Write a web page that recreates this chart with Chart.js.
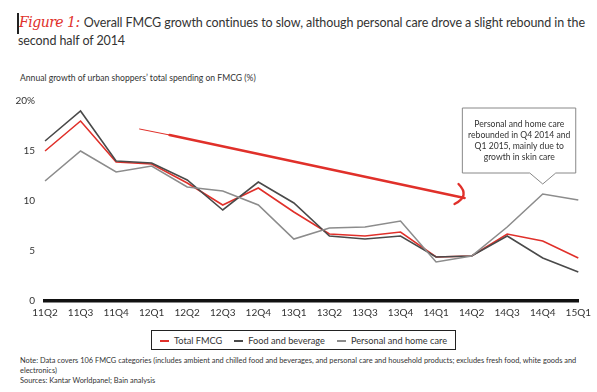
<!DOCTYPE html>
<html lang="en">
<head>
<meta charset="UTF-8">
<title>FMCG growth</title>
<style>
  body { margin: 0; width: 597px; height: 392px; background: #fff; font-family: Lato, "Open Sans", sans-serif; color: #333; position: relative; overflow: hidden; }
  #title { position: absolute; left: 18px; top: 13px; width: 580px; font-size: 12.5px; line-height: 18px; color: #333; white-space: nowrap; letter-spacing: -0.1px; }
  #title .bar { position: absolute; left: -1px; top: 0; width: 1.5px; height: 21px; background: #222; }
  #title .fig { color: #e0302a; font-style: italic; font-size: 14px; font-family: "DejaVu Serif", serif; margin-left: 1px; margin-right: 4px; letter-spacing: -0.5px; }
  #ytitle { position: absolute; left: 20px; top: 73px; font-size: 8.6px; color: #333; }
  #wrap { position: absolute; left: 0; top: 85px; width: 597px; height: 240px; }
  #legend { position: absolute; left: 151px; top: 330px; width: 303px; height: 18px; border: 1px solid #222; font-size: 9.2px; display: flex; align-items: center; justify-content: center; gap: 12px; white-space: nowrap; }
  #legend span.sw { display: inline-block; width: 9px; height: 2.5px; vertical-align: middle; margin-right: 5px; }
  #notes { position: absolute; left: 20px; top: 356px; width: 570px; font-size: 7.4px; line-height: 10px; color: #333; }
</style>
</head>
<body>
<div id="title"><div class="bar"></div><span class="fig">Figure 1:</span>Overall FMCG growth continues to slow, although personal care drove a slight rebound in the<br>second half of 2014</div>
<div id="ytitle">Annual growth of urban shoppers’ total spending on FMCG (%)</div>
<div id="wrap"><canvas id="chart" width="597" height="240"></canvas></div>
<div id="legend"></div>
<div id="notes">Note: Data covers 106 FMCG categories (includes ambient and chilled food and beverages, and personal care and household products; excludes fresh food, white goods and electronics)<br>Sources: Kantar Worldpanel; Bain analysis</div>

<script src="https://cdn.jsdelivr.net/npm/chart.js"></script>
<script>
const quarters = ['11Q2','11Q3','11Q4','12Q1','12Q2','12Q3','12Q4','13Q1','13Q2','13Q3','13Q4','14Q1','14Q2','14Q3','14Q4','15Q1'];
const totalFmcg = [15.0, 18.0, 13.9, 13.7, 11.8, 9.6, 11.3, 8.9, 6.7, 6.5, 6.9, 4.4, 4.5, 6.7, 6.0, 4.3];
const foodBeverage = [16.0, 19.0, 14.0, 13.8, 12.1, 9.1, 11.9, 9.8, 6.5, 6.2, 6.5, 4.4, 4.5, 6.5, 4.3, 2.9];
const personalHome = [12.0, 15.0, 12.9, 13.5, 11.4, 11.0, 9.6, 6.2, 7.3, 7.4, 8.0, 3.9, 4.5, 7.4, 10.7, 10.1];
const yTicks = [0, 5, 10, 15, 20];
const seriesNames = ['Total FMCG', 'Food and beverage', 'Personal and home care'];
const seriesColors = ['#e0302a', '#4a4a4a', '#8c8c8c'];
const calloutLines = ['Personal and home care', 'rebounded in Q4 2014 and', 'Q1 2015, mainly due to', 'growth in skin care'];

const legend = document.getElementById('legend');
seriesNames.forEach((n, i) => {
  const d = document.createElement('div');
  d.innerHTML = '<span class="sw" style="background:' + seriesColors[i] + '"></span>' + n;
  legend.appendChild(d);
});

// red trend arrow + callout box
const annotations = {
  id: 'annotations',
  afterDatasetsDraw(chart) {
    const ctx = chart.ctx, x = chart.scales.x, y = chart.scales.y;
    // arrow
    const x1 = x.getPixelForValue(2.66), y1 = y.getPixelForValue(17.2);
    const x2 = x.getPixelForValue(11.8), y2 = y.getPixelForValue(10.3);
    ctx.save();
    ctx.strokeStyle = '#e0302a';
    ctx.lineCap = 'round';
    ctx.lineWidth = 1;
    ctx.beginPath(); ctx.moveTo(x1, y1); ctx.lineTo(x1 + 40, y1 + 8); ctx.stroke();
    ctx.lineWidth = 2.6;
    ctx.beginPath(); ctx.moveTo(x1 + 30, y1 + 6); ctx.lineTo(x2, y2); ctx.stroke();
    ctx.lineWidth = 2.4;
    ctx.beginPath();
    ctx.moveTo(x2 - 6, y2 - 14);
    ctx.quadraticCurveTo(x2 + 6, y2 - 2, x2 - 10, y2 + 6);
    ctx.stroke();
    // callout
    const tx = x.getPixelForValue(14), ty = y.getPixelForValue(11.7);
    const bx = tx - 80, by = ty - 76, bw = 113, bh = 65;
    ctx.lineWidth = 1;
    ctx.strokeStyle = '#888';
    ctx.fillStyle = '#fff';
    ctx.beginPath();
    ctx.moveTo(bx, by);
    ctx.lineTo(bx + bw, by);
    ctx.lineTo(bx + bw, by + bh);
    ctx.lineTo(tx + 13, by + bh);
    ctx.lineTo(tx, ty);
    ctx.lineTo(tx - 13, by + bh);
    ctx.lineTo(bx, by + bh);
    ctx.closePath();
    ctx.fill(); ctx.stroke();
    ctx.fillStyle = '#333';
    ctx.font = '8.6px Lato, sans-serif';
    ctx.textAlign = 'center';
    ctx.textBaseline = 'middle';
    calloutLines.forEach((l, i) => ctx.fillText(l, bx + bw / 2, by + 16 + i * 11));
    ctx.restore();
  }
};

new Chart(document.getElementById('chart'), {
  type: 'line',
  data: {
    labels: quarters,
    datasets: [
      { label: seriesNames[2], data: personalHome, borderColor: seriesColors[2], borderWidth: 1.6, pointRadius: 0, tension: 0 },
      { label: seriesNames[1], data: foodBeverage, borderColor: seriesColors[1], borderWidth: 1.6, pointRadius: 0, tension: 0 },
      { label: seriesNames[0], data: totalFmcg, borderColor: seriesColors[0], borderWidth: 1.6, pointRadius: 0, tension: 0 }
    ]
  },
  options: {
    responsive: false,
    animation: false,
    layout: { padding: { top: 12, right: 17, bottom: 4, left: 0 } },
    plugins: { legend: { display: false }, tooltip: { enabled: false } },
    scales: {
      x: {
        offset: false,
        grid: { display: false, drawTicks: false },
        border: { display: true, color: '#111', width: 3.5 },
        ticks: { color: '#333', font: { family: 'Lato', size: 10 }, padding: 6, maxRotation: 0, autoSkip: false },
        afterFit(s) { s.height = 20; }
      },
      y: {
        min: 0, max: 20,
        afterBuildTicks(s) { s.ticks = yTicks.map(v => ({ value: v })); },
        grid: { display: false, drawTicks: false },
        border: { display: false },
        ticks: {
          color: '#333', font: { family: 'Lato', size: 10 }, padding: 10,
          callback: v => v === 20 ? '20%' : String(v)
        },
        afterFit(s) { s.width = 45; }
      }
    }
  },
  plugins: [annotations]
});
</script>
</body>
</html>
